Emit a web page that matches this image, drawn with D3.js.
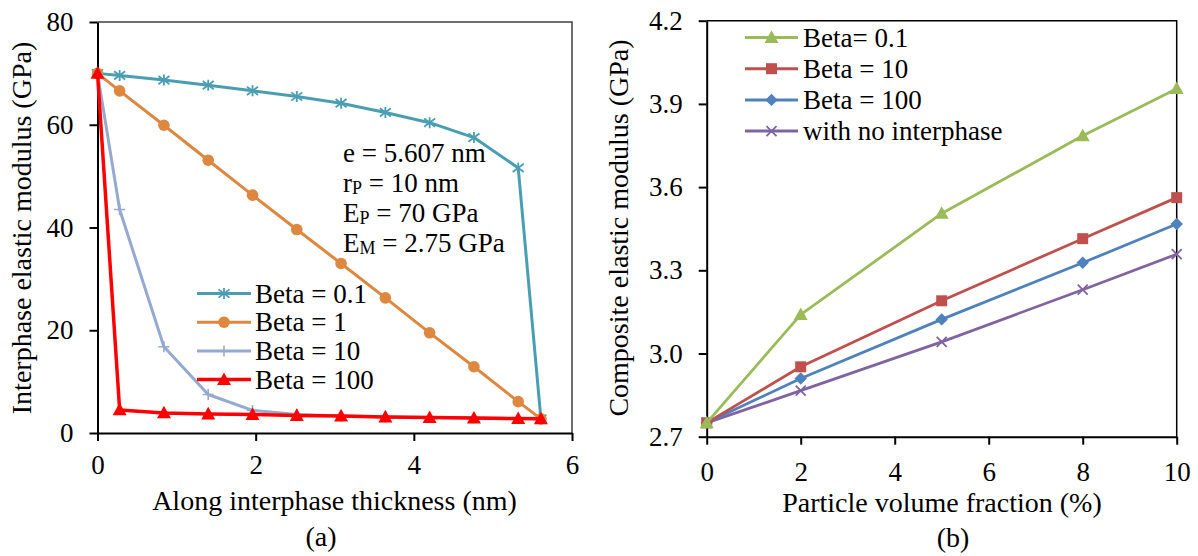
<!DOCTYPE html>
<html>
<head>
<meta charset="utf-8">
<script src="https://cdn.jsdelivr.net/npm/d3@7"></script>
<style>
  html, body { margin: 0; padding: 0; background: #fff; }
  svg { display: block; }
  text { font-family: "Liberation Serif", "Times New Roman", serif; fill: #000; }
</style>
</head>
<body>
<svg id="fig" width="1198" height="556"></svg>
<script>
// ---- (a) interphase modulus profile ----
const thickness = [0, 0.28, 0.84, 1.40, 1.96, 2.52, 3.08, 3.64, 4.20, 4.76, 5.32, 5.607];
const beta01 = [70, 69.6, 68.7, 67.7, 66.6, 65.5, 64.2, 62.4, 60.4, 57.5, 51.6, 2.75];
const beta1 = [70, 66.6, 59.9, 53.1, 46.3, 39.6, 33.0, 26.3, 19.5, 12.9, 6.1, 2.75];
const beta10 = [70, 43.5, 16.8, 7.5, 4.4, 3.6, 3.3, 3.1, 3.0, 2.9, 2.8, 2.75];
const beta100 = [70, 4.5, 3.9, 3.7, 3.6, 3.4, 3.3, 3.1, 3.0, 2.9, 2.8, 2.75];
const seriesA = ["Beta = 0.1", "Beta = 1", "Beta = 10", "Beta = 100"];
const xTicksA = [0, 2, 4, 6];
const yTicksA = [0, 20, 40, 60, 80];

// ---- (b) composite modulus vs. volume fraction ----
const fraction = [0, 2, 5, 8, 10];
const compBeta01 = [2.75, 3.14, 3.505, 3.785, 3.955];
const compBeta10 = [2.75, 2.952, 3.19, 3.414, 3.562];
const compBeta100 = [2.75, 2.91, 3.123, 3.327, 3.467];
const compNoInter = [2.75, 2.866, 3.042, 3.23, 3.358];
const seriesB = ["Beta= 0.1", "Beta = 10", "Beta = 100", "with no interphase"];
const xTicksB = [0, 2, 4, 6, 8, 10];
const yTicksB = [2.7, 3.0, 3.3, 3.6, 3.9, 4.2];

const svg = d3.select("#fig");
const FS = 27;      // labels, legend, notes
const FT = 28;      // axis titles

// marker drawing
function marker(g, type, x, y, color) {
  const s = 5.5;
  if (type === "star") {
    const p = d3.path();
    p.moveTo(x, y - s); p.lineTo(x, y + s);
    p.moveTo(x - s, y - s * 0.75); p.lineTo(x + s, y + s * 0.75);
    p.moveTo(x - s, y + s * 0.75); p.lineTo(x + s, y - s * 0.75);
    g.append("path").attr("d", p.toString()).attr("stroke", color).attr("stroke-width", 1.8).attr("fill", "none");
  } else if (type === "circle") {
    g.append("circle").attr("cx", x).attr("cy", y).attr("r", 5.8).attr("fill", color);
  } else if (type === "plus") {
    const p = d3.path();
    p.moveTo(x, y - s); p.lineTo(x, y + s);
    p.moveTo(x - s, y); p.lineTo(x + s, y);
    g.append("path").attr("d", p.toString()).attr("stroke", color).attr("stroke-width", 1.6).attr("fill", "none");
  } else if (type === "triangle") {
    const w = 7, h = 12;
    g.append("path").attr("d", `M${x},${y - h * 0.6}L${x + w},${y + h * 0.45}L${x - w},${y + h * 0.45}Z`).attr("fill", color);
  } else if (type === "square") {
    g.append("rect").attr("x", x - 5.5).attr("y", y - 5.5).attr("width", 11).attr("height", 11).attr("fill", color);
  } else if (type === "diamond") {
    const d = 6.2;
    g.append("path").attr("d", `M${x},${y - d}L${x + d},${y}L${x},${y + d}L${x - d},${y}Z`).attr("fill", color);
  } else if (type === "x") {
    const p = d3.path(), k = 5;
    p.moveTo(x - k, y - k); p.lineTo(x + k, y + k);
    p.moveTo(x - k, y + k); p.lineTo(x + k, y - k);
    g.append("path").attr("d", p.toString()).attr("stroke", color).attr("stroke-width", 1.8).attr("fill", "none");
  }
}

function styleAxis(g, width) {
  g.selectAll(".domain").attr("stroke", "#000").attr("stroke-width", width);
  g.selectAll(".tick line").attr("stroke", "#000").attr("stroke-width", width);
  g.selectAll(".tick text").style("font-size", FS + "px").style("font-family", '"Liberation Serif", serif').attr("fill", "#000");
}

// ================= panel (a) =================
const xA = d3.scaleLinear().domain([0, 6]).range([97.5, 572]);
const yA = d3.scaleLinear().domain([0, 80]).range([433, 22]);
const gA = svg.append("g");

// plot frame (top and right)
gA.append("path")
  .attr("d", `M${xA(0)},${yA(80)}H${xA(6)}V${yA(0)}`)
  .attr("fill", "none").attr("stroke", "#404040").attr("stroke-width", 1.5);

const axAx = gA.append("g").attr("transform", `translate(0,${yA(0)})`)
  .call(d3.axisBottom(xA).tickValues(xTicksA).tickFormat(d3.format("d")).tickSizeInner(8).tickSizeOuter(0).tickPadding(14));
styleAxis(axAx, 2);
const axAy = gA.append("g").attr("transform", `translate(${xA(0)},0)`)
  .call(d3.axisLeft(yA).tickValues(yTicksA).tickFormat(d3.format("d")).tickSizeInner(8).tickSizeOuter(0).tickPadding(16));
styleAxis(axAy, 2);

const dataA = [
  { name: seriesA[0], vals: beta01, color: "#4A9EB4", type: "star", width: 3 },
  { name: seriesA[1], vals: beta1, color: "#DD873F", type: "circle", width: 3 },
  { name: seriesA[2], vals: beta10, color: "#95A9D1", type: "plus", width: 3 },
  { name: seriesA[3], vals: beta100, color: "#FF0000", type: "triangle", width: 3.5 }
];
const lineA = d3.line().x(d => xA(d[0])).y(d => yA(d[1]));
dataA.forEach(s => {
  const pts = thickness.map((t, i) => [t, s.vals[i]]);
  const g = gA.append("g");
  g.append("path").attr("d", lineA(pts)).attr("fill", "none")
    .attr("stroke", s.color).attr("stroke-width", s.width).attr("stroke-linejoin", "round");
  pts.forEach(p => marker(g, s.type, xA(p[0]), yA(p[1]), s.color));
});

// legend (a)
dataA.forEach((s, i) => {
  const y = 293.5 + i * 28.7;
  const g = gA.append("g");
  g.append("line").attr("x1", 197).attr("x2", 251).attr("y1", y).attr("y2", y)
    .attr("stroke", s.color).attr("stroke-width", s.width);
  marker(g, s.type, 224, y, s.color);
  g.append("text").attr("x", 255).attr("y", y + 9).style("font-size", FS + "px").text(s.name);
});

// parameter annotation
const notes = [
  { main: "e = 5.607 nm" },
  { pre: "r", sub: "P", post: " = 10 nm" },
  { pre: "E", sub: "P", post: " = 70 GPa" },
  { pre: "E", sub: "M", post: " = 2.75 GPa" }
];
notes.forEach((n, i) => {
  const t = gA.append("text").attr("x", 343).attr("y", 162 + i * 30).style("font-size", FS + "px");
  if (n.main) { t.text(n.main); return; }
  t.append("tspan").text(n.pre);
  t.append("tspan").attr("dy", 2).style("font-size", "18px").text(n.sub);
  t.append("tspan").attr("dy", -2).text(n.post);
});

// titles (a)
gA.append("text").attr("x", 334.5).attr("y", 510).attr("text-anchor", "middle")
  .style("font-size", FT + "px").text("Along interphase thickness (nm)");
gA.append("text").attr("transform", "translate(31,228) rotate(-90)").attr("text-anchor", "middle")
  .style("font-size", FT + "px").text("Interphase elastic modulus (GPa)");
gA.append("text").attr("x", 321).attr("y", 546).attr("text-anchor", "middle")
  .style("font-size", FT + "px").text("(a)");

// ================= panel (b) =================
const xB = d3.scaleLinear().domain([0, 10]).range([706.7, 1176.7]);
const yB = d3.scaleLinear().domain([2.7, 4.2]).range([436.7, 20.7]);
const gB = svg.append("g");

gB.append("path")
  .attr("d", `M${xB(0)},${yB(4.2)}H${xB(10)}V${yB(2.7)}`)
  .attr("fill", "none").attr("stroke", "#000").attr("stroke-width", 1.5);

const axBx = gB.append("g").attr("transform", `translate(0,${yB(2.7)})`)
  .call(d3.axisBottom(xB).tickValues(xTicksB).tickFormat(d3.format("d")).tickSizeInner(8).tickSizeOuter(0).tickPadding(17));
styleAxis(axBx, 2);
const axBy = gB.append("g").attr("transform", `translate(${xB(0)},0)`)
  .call(d3.axisLeft(yB).tickValues(yTicksB).tickFormat(d3.format(".1f")).tickSizeInner(8).tickSizeOuter(0).tickPadding(16));
styleAxis(axBy, 2);

const dataB = [
  { name: seriesB[0], vals: compBeta01, color: "#9BBB59", type: "triangle" },
  { name: seriesB[1], vals: compBeta10, color: "#C0504D", type: "square" },
  { name: seriesB[2], vals: compBeta100, color: "#4F81BD", type: "diamond" },
  { name: seriesB[3], vals: compNoInter, color: "#8064A2", type: "x" }
];
const lineB = d3.line().x(d => xB(d[0])).y(d => yB(d[1]));
dataB.slice().reverse().forEach(s => {
  const pts = fraction.map((f, i) => [f, s.vals[i]]);
  const g = gB.append("g");
  g.append("path").attr("d", lineB(pts)).attr("fill", "none")
    .attr("stroke", s.color).attr("stroke-width", 2.8).attr("stroke-linejoin", "round");
  pts.forEach(p => marker(g, s.type, xB(p[0]), yB(p[1]), s.color));
});

// legend (b)
dataB.forEach((s, i) => {
  const y = 37.5 + i * 31.2;
  const g = gB.append("g");
  g.append("line").attr("x1", 745).attr("x2", 798).attr("y1", y).attr("y2", y)
    .attr("stroke", s.color).attr("stroke-width", 3);
  marker(g, s.type, 771.5, y, s.color);
  g.append("text").attr("x", 803).attr("y", y + 9).style("font-size", FS + "px").text(s.name);
});

// titles (b)
gB.append("text").attr("x", 942).attr("y", 512).attr("text-anchor", "middle")
  .style("font-size", FT + "px").text("Particle volume fraction (%)");
gB.append("text").attr("transform", "translate(628,228) rotate(-90)").attr("text-anchor", "middle")
  .style("font-size", FT + "px").text("Composite elastic modulus (GPa)");
gB.append("text").attr("x", 953).attr("y", 547).attr("text-anchor", "middle")
  .style("font-size", FT + "px").text("(b)");
</script>
</body>
</html>
